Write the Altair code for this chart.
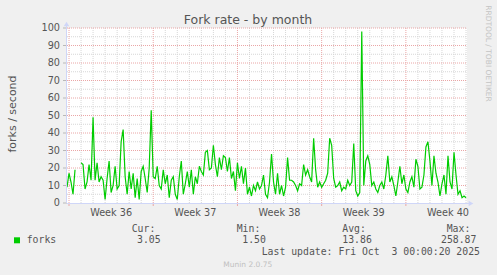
import altair as alt
import pandas as pd

# ---- data ----
forks = [
    9, 17, 12, 5, 19, None, None, 23, 22, 8,
    12, 22, 13, 49, 13, 23, 12, 15, 13, 2,
    14, 24, 6, 10, 21, 8, 10, 35, 42, 15,
    5, 18, 8, 17, 3, 14, 2, 18, 21, 14,
    6, 20, 53, 15, 14, 21, 10, 8, 19, 11,
    16, 3, 13, 15, 5, 2, 15, 24, 5, 11,
    18, 9, 19, 5, 15, 11, 21, 18, 16, 29,
    30, 19, 20, 33, 22, 15, 26, 19, 27, 26,
    18, 26, 14, 18, 7, 23, 14, 21, 11, 20,
    5, 9, 4, 10, 7, 12, 8, 10, 16, 5,
    3, 12, 28, 12, 5, 17, 5, 10, 4, 9,
    26, 13, 13, 12, 10, 7, 11, 10, 22, 16,
    19, 15, 12, 37, 19, 9, 12, 9, 11, 13,
    17, 37, 33, 14, 9, 10, 12, 7, 9, 8,
    13, 10, 12, 34, 7, 4, 6, 98, 10, 24,
    27, 22, 10, 12, 8, 6, 10, 12, 8, 16,
    27, 12, 15, 10, 4, 12, 21, 11, 16, 8,
    6, 12, 15, 9, 25, 21, 8, 9, 16, 32,
    35, 24, 10, 27, 17, 12, 4, 11, 16, 5,
    27, 12, 8, 29, 16, 5, 7, 3, 4, 3,
]
weeks = ["Week 36", "Week 37", "Week 38", "Week 39", "Week 40"]
week_start = [0, 7, 14, 21, 28]          # days since Mon 1 Sep 2025
y_labels = [0, 10, 20, 30, 40, 50, 60, 70, 80, 90, 100]
y_minor = [5, 15, 25, 35, 45, 55, 65, 75, 85, 95]
stat_names = ["Cur:", "Min:", "Avg:", "Max:"]
stat_values = ["3.05", "1.50", "13.86", "258.87"]
series_name = "forks"
title_text = "Fork rate - by month"
y_title = "forks / second"
last_update = "Last update: Fri Oct \u00a03 00:00:20 2025"
footer = "Munin 2.0.75"
side_text = "RRDTOOL / TOBI OETIKER"

# ---- tables ----
W, H = 400, 175
step = 1.0 / 6.0  # 4-hour samples
df = pd.DataFrame({
    "day": [(i - 1) * step for i in range(len(forks))],
    "v": forks,
})
gap = df["v"].isna().cumsum()
df["seg"] = gap
df = df.dropna()

xs = alt.Scale(domain=[-step, 33.08], nice=False, zero=False)
ys = alt.Scale(domain=[0, 100], nice=False, zero=False)

FONT = "DejaVu Sans"
MONO = "DejaVu Sans Mono"
TXT = "#555555"
AXIS_C = "#CFD6F8"

all_days = list(range(0, 34))
minor_days = [d for d in all_days if d not in week_start]

def rules_y(vals, color):
    return alt.Chart(pd.DataFrame({"v": vals})).mark_rule(
        color=color, strokeDash=[1, 1], strokeWidth=1
    ).encode(y=alt.Y("v:Q", scale=ys, axis=None), x=alt.value(0), x2=alt.value(W))

def rules_x(vals, color, y0, y1, dash=True):
    m = alt.Chart(pd.DataFrame({"d": vals})).mark_rule(
        color=color, strokeDash=[1, 1] if dash else [1, 0], strokeWidth=1
    )
    return m.encode(x=alt.X("d:Q", scale=xs, axis=None), y=alt.value(y0), y2=alt.value(y1))

def text(t, x, y, size, font=FONT, color=TXT, align="left", angle=0, baseline="alphabetic"):
    return alt.Chart(pd.DataFrame({"t": [t]})).mark_text(
        font=font, fontSize=size, color=color, align=align, angle=angle, baseline=baseline
    ).encode(text="t:N", x=alt.value(x), y=alt.value(y))

grid_minor_h = rules_y(y_minor, "#d6d6d6")
grid_major_h = rules_y(y_labels[1:], "#eaa6a6")
grid_minor_v = rules_x(minor_days, "#d6d6d6", 0, H)
grid_major_v = rules_x(week_start, "#eaa6a6", 0, H)
tick_major_v = rules_x(week_start, "#eaa6a6", H, H + 3, dash=False)

ytick = alt.Chart(pd.DataFrame({"v": y_labels})).mark_rule(color="#b8b8b8").encode(
    y=alt.Y("v:Q", scale=ys, axis=None), x=alt.value(-4), x2=alt.value(0)
)
ylab = alt.Chart(pd.DataFrame({"v": y_labels})).mark_text(
    font=FONT, fontSize=9.7, color=TXT, align="right", baseline="middle"
).encode(y=alt.Y("v:Q", scale=ys, axis=None), text="v:Q", x=alt.value(-7))

wk = pd.DataFrame({"w": weeks, "mid": [s + 3.5 for s in week_start]})
xlab = alt.Chart(wk).mark_text(
    font=FONT, fontSize=9.7, color=TXT, align="center", baseline="alphabetic"
).encode(x=alt.X("mid:Q", scale=xs, axis=None), text="w:N", y=alt.value(188))

line = alt.Chart(df).mark_line(color="#00CC00", strokeWidth=1.2).encode(
    x=alt.X("day:Q", scale=xs, axis=None),
    y=alt.Y("v:Q", scale=ys, axis=None),
    detail="seg:N",
)

one = pd.DataFrame({"a": [0]})
x_axis = alt.Chart(one).mark_rule(color=AXIS_C, strokeWidth=1).encode(
    x=alt.value(0), x2=alt.value(402), y=alt.value(H + 0.5))
y_axis = alt.Chart(one).mark_rule(color=AXIS_C, strokeWidth=1).encode(
    y=alt.value(-3), y2=alt.value(H), x=alt.value(-0.5))
x_arrow = alt.Chart(one).mark_point(shape="triangle-right", filled=True, color=AXIS_C,
                                     size=30, opacity=1).encode(
    x=alt.value(404), y=alt.value(H + 0.5))
y_arrow = alt.Chart(one).mark_point(shape="triangle-up", filled=True, color=AXIS_C,
                                    size=30, opacity=1).encode(
    x=alt.value(-0.5), y=alt.value(-4))

legend_sq = alt.Chart(one).mark_square(color="#00CC00", size=36, opacity=1).encode(
    x=alt.value(-50), y=alt.value(212.3))

stat_x_name = [64.7, 169.7, 275.3, 379.7]
stat_x_val = [70, 175.3, 275.3, 374]

layers = [grid_minor_h, grid_minor_v, grid_major_h, grid_major_v, tick_major_v,
          ytick, ylab, xlab, line, x_axis, y_axis, x_arrow, y_arrow, legend_sq,
          text(title_text, 181, -4, 12.5, align="center"),
          text(y_title, -51.5, 86, 11, align="center", angle=270),
          text(side_text, 418.5, 25.5, 7.5, color="#c4c4c4", align="center", angle=90),
          text(series_name, -40.3, 215.3, 9.8, font=MONO),
          text(last_update, 194.7, 226.5, 9.8, font=MONO),
          text(footer, 180.8, 239.3, 7.5, color="#c0c0c0", align="center")]
for n, xn in zip(stat_names, stat_x_name):
    layers.append(text(n, xn, 203.5, 9.8, font=MONO))
for v, xv in zip(stat_values, stat_x_val):
    layers.append(text(v, xv, 215.3, 9.8, font=MONO))

chart = alt.layer(*layers).properties(
    width=W, height=H,
    autosize=alt.AutoSizeParams(type="none"),
    padding={"left": 67, "top": 28, "right": 30, "bottom": 72},
    background="#F0F0F0",
).configure_view(fill="white", strokeWidth=0)

chart.save("out.html", embed_options={"renderer": "svg", "actions": False})
